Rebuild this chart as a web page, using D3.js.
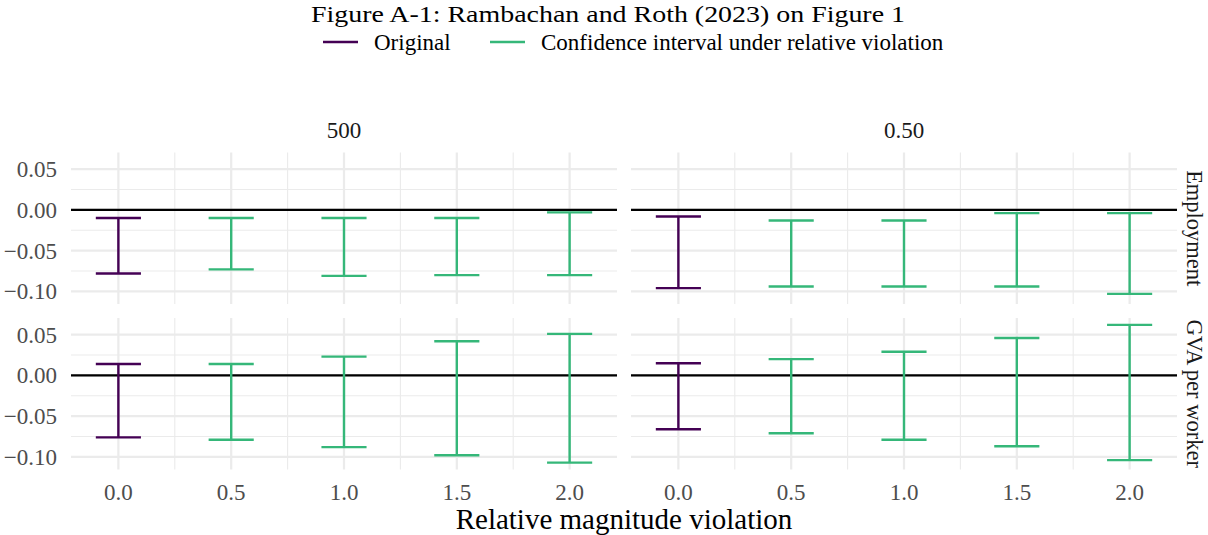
<!DOCTYPE html>
<html>
<head>
<meta charset="utf-8">
<script src="https://cdn.jsdelivr.net/npm/d3@7"></script>
<style>
  body { margin: 0; background: #fff; }
  svg { display: block; font-family: "Liberation Serif", "Times New Roman", serif; }
</style>
</head>
<body>
<div id="chart"></div>
<script>
'use strict';

// chart values
var magnitudes = [0, 0.5, 1, 1.5, 2];
var columnLabels = ['500', '0.50'];
var rowLabels = ['Employment', 'GVA per worker'];
var xTicks = [0, 0.5, 1, 1.5, 2];
var yTicks = [0.05, 0, -0.05, -0.10];
var seriesNames = ['Original', 'Confidence interval under relative violation'];

var emp500Lower = [-0.078, -0.073, -0.081, -0.080, -0.080];
var emp500Upper = [-0.010, -0.010, -0.010, -0.010, -0.003];
var emp050Lower = [-0.096, -0.094, -0.094, -0.094, -0.103];
var emp050Upper = [-0.008, -0.013, -0.013, -0.004, -0.004];
var gva500Lower = [-0.076, -0.079, -0.088, -0.098, -0.107];
var gva500Upper = [0.014, 0.014, 0.023, 0.042, 0.051];
var gva050Lower = [-0.066, -0.071, -0.079, -0.087, -0.104];
var gva050Upper = [0.015, 0.020, 0.029, 0.046, 0.062];

var colors = ['#440154', '#35B779'];

var panels = [
  { row: 0, col: 0, lower: emp500Lower, upper: emp500Upper },
  { row: 0, col: 1, lower: emp050Lower, upper: emp050Upper },
  { row: 1, col: 0, lower: gva500Lower, upper: gva500Upper },
  { row: 1, col: 1, lower: gva050Lower, upper: gva050Upper }
];

var width = 1208, height = 535;
var capHalf = 0.1;

var svg = d3.select('#chart')
            .append('svg')
            .attr('width', width)
            .attr('height', height);

// panel geometry
var panelLeft = [71, 631];
var panelWidth = 546;
var panelTop = [152.5, 318];
var panelHeight = 151.5;

// shared scales (fixed facets), ggplot style 5% expansion
var allVals = [0];
panels.forEach(function (p) { allVals = allVals.concat(p.lower, p.upper); });
var yExt = d3.extent(allVals);
var yPad = (yExt[1] - yExt[0]) * 0.05;
var xExt = [d3.min(magnitudes) - capHalf, d3.max(magnitudes) + capHalf];
var xPad = (xExt[1] - xExt[0]) * 0.05;

var x = d3.scaleLinear().domain([xExt[0] - xPad, xExt[1] + xPad]).range([0, panelWidth]);
var y = d3.scaleLinear().domain([yExt[0] - yPad, yExt[1] + yPad]).range([panelHeight, 0]);

var xMinor = [0.25, 0.75, 1.25, 1.75];
var yMinor = [0.025, -0.025, -0.075];

panels.forEach(function (p) {
  var g = svg.append('g')
             .attr('transform', 'translate(' + panelLeft[p.col] + ',' + panelTop[p.row] + ')');

  // grid
  g.selectAll('.ymin').data(yMinor).enter().append('line')
   .attr('x1', 0).attr('x2', panelWidth)
   .attr('y1', function (d) { return y(d); }).attr('y2', function (d) { return y(d); })
   .attr('stroke', '#EBEBEB').attr('stroke-width', 1.1);
  g.selectAll('.xmin').data(xMinor).enter().append('line')
   .attr('y1', 0).attr('y2', panelHeight)
   .attr('x1', function (d) { return x(d); }).attr('x2', function (d) { return x(d); })
   .attr('stroke', '#EBEBEB').attr('stroke-width', 1.1);
  g.selectAll('.ymaj').data(yTicks).enter().append('line')
   .attr('x1', 0).attr('x2', panelWidth)
   .attr('y1', function (d) { return y(d); }).attr('y2', function (d) { return y(d); })
   .attr('stroke', '#EBEBEB').attr('stroke-width', 2.2);
  g.selectAll('.xmaj').data(xTicks).enter().append('line')
   .attr('y1', 0).attr('y2', panelHeight)
   .attr('x1', function (d) { return x(d); }).attr('x2', function (d) { return x(d); })
   .attr('stroke', '#EBEBEB').attr('stroke-width', 2.2);

  // zero line
  g.append('line')
   .attr('x1', 0).attr('x2', panelWidth)
   .attr('y1', y(0)).attr('y2', y(0))
   .attr('stroke', '#000').attr('stroke-width', 2.4);

  // error bars
  var bars = magnitudes.map(function (m, i) {
    return { m: m, lo: p.lower[i], hi: p.upper[i], c: i === 0 ? colors[0] : colors[1] };
  });
  var eb = g.selectAll('.eb').data(bars).enter().append('g');
  eb.append('line')
    .attr('x1', function (d) { return x(d.m); }).attr('x2', function (d) { return x(d.m); })
    .attr('y1', function (d) { return y(d.lo); }).attr('y2', function (d) { return y(d.hi); })
    .attr('stroke', function (d) { return d.c; }).attr('stroke-width', 2.4);
  ['lo', 'hi'].forEach(function (k) {
    eb.append('line')
      .attr('x1', function (d) { return x(d.m - capHalf); })
      .attr('x2', function (d) { return x(d.m + capHalf); })
      .attr('y1', function (d) { return y(d[k]); }).attr('y2', function (d) { return y(d[k]); })
      .attr('stroke', function (d) { return d.c; }).attr('stroke-width', 2.4);
  });

  // y tick labels only on the left column
  if (p.col === 0) {
    g.selectAll('.ylab').data(yTicks).enter().append('text')
     .attr('x', -14).attr('y', function (d) { return y(d); })
     .attr('dy', '0.35em')
     .attr('text-anchor', 'end')
     .attr('fill', '#4D4D4D')
     .style('font-size', '23px')
     .text(function (d) { return d3.format('.2f')(d).replace('-', '\u2212'); });
  }

  // x tick labels on the bottom row
  if (p.row === 1) {
    g.selectAll('.xlab').data(xTicks).enter().append('text')
     .attr('x', function (d) { return x(d); }).attr('y', panelHeight + 30)
     .attr('text-anchor', 'middle')
     .attr('fill', '#4D4D4D')
     .style('font-size', '23px')
     .text(function (d) { return d3.format('.1f')(d); });
  }

  // strip labels
  if (p.row === 0) {
    g.append('text')
     .attr('x', panelWidth / 2).attr('y', -15)
     .attr('text-anchor', 'middle')
     .attr('fill', '#1A1A1A')
     .style('font-size', '23px')
     .text(columnLabels[p.col]);
  }
  if (p.col === 1) {
    g.append('text')
     .attr('transform', 'translate(' + (panelWidth + 10) + ',' + (panelHeight / 2) + ') rotate(90)')
     .attr('text-anchor', 'middle')
     .attr('fill', '#1A1A1A')
     .style('font-size', '22.5px')
     .text(rowLabels[p.row]);
  }
});

// x axis title
svg.append('text')
   .attr('x', (panelLeft[0] + panelLeft[1] + panelWidth) / 2)
   .attr('y', 529)
   .attr('text-anchor', 'middle')
   .attr('fill', '#000')
   .style('font-size', '29px')
   .text('Relative magnitude violation');

// title
svg.append('text')
   .attr('x', 608).attr('y', 22)
   .attr('text-anchor', 'middle')
   .attr('fill', '#000')
   .attr('textLength', 594)
   .attr('lengthAdjust', 'spacingAndGlyphs')
   .style('font-size', '24px')
   .text('Figure A-1: Rambachan and Roth (2023) on Figure 1');

// legend
var legendX = [323, 490];
seriesNames.forEach(function (name, i) {
  var lg = svg.append('g').attr('transform', 'translate(' + legendX[i] + ',42)');
  lg.append('line')
    .attr('x1', 0).attr('x2', 35).attr('y1', 0).attr('y2', 0)
    .attr('stroke', colors[i]).attr('stroke-width', 2.4);
  lg.append('text')
    .attr('x', 51).attr('y', 0).attr('dy', '0.35em')
    .attr('fill', '#000')
    .style('font-size', '23px')
    .text(name);
});
</script>
</body>
</html>
